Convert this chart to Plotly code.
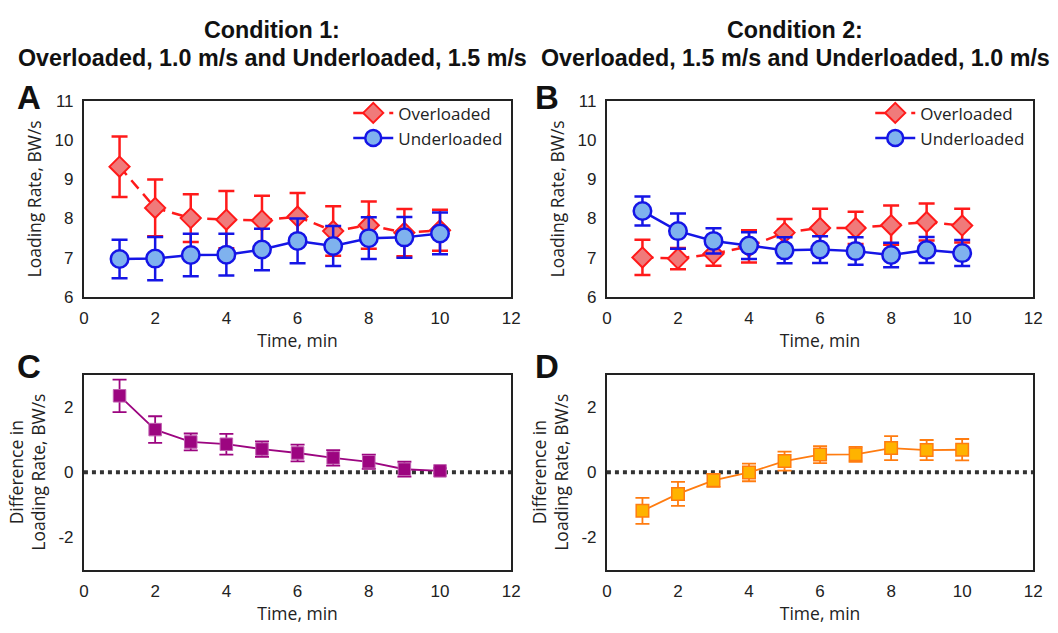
import plotly.graph_objects as go

time = [1, 2, 3, 4, 5, 6, 7, 8, 9, 10]

# Condition 1 (panel A)
a_over = [9.32, 8.27, 8.01, 7.97, 7.95, 8.05, 7.68, 7.83, 7.64, 7.70]
a_over_err = [0.77, 0.72, 0.61, 0.73, 0.63, 0.60, 0.63, 0.60, 0.60, 0.52]
a_under = [6.97, 6.98, 7.07, 7.08, 7.21, 7.43, 7.30, 7.50, 7.52, 7.62]
a_under_err = [0.49, 0.55, 0.54, 0.53, 0.53, 0.57, 0.51, 0.53, 0.52, 0.53]

# Condition 2 (panel B)
b_over = [7.01, 6.98, 7.10, 7.29, 7.64, 7.76, 7.76, 7.83, 7.91, 7.82]
b_over_err = [0.45, 0.27, 0.30, 0.41, 0.35, 0.49, 0.41, 0.50, 0.47, 0.43]
b_under = [8.19, 7.68, 7.43, 7.31, 7.19, 7.21, 7.17, 7.07, 7.20, 7.12]
b_under_err = [0.37, 0.45, 0.32, 0.34, 0.33, 0.34, 0.35, 0.31, 0.33, 0.33]

# Differences (panels C and D)
c_diff = [2.35, 1.31, 0.93, 0.86, 0.71, 0.59, 0.44, 0.32, 0.09, 0.04]
c_diff_err = [0.50, 0.41, 0.26, 0.32, 0.24, 0.26, 0.24, 0.22, 0.23, 0.08]
d_diff = [-1.19, -0.67, -0.25, -0.01, 0.34, 0.54, 0.55, 0.74, 0.68, 0.69]
d_diff_err = [0.40, 0.37, 0.20, 0.27, 0.29, 0.26, 0.23, 0.37, 0.31, 0.33]

RED = "#ff1a1a"
RED_FILL = "#f07a7a"
BLUE = "#1515e6"
BLUE_FILL = "#7fb2ee"
PURPLE = "#9c0580"
ORANGE = "#ff7c10"
ORANGE_FILL = "#ffb300"

FONT = "Liberation Sans, Arial, sans-serif"
TFONT = "Open Sans, sans-serif"

fig = go.Figure()


def over_trace(y, e, xa, ya, legend):
    return go.Scatter(
        x=time, y=y, xaxis=xa, yaxis=ya, name="Overloaded", legend=legend,
        mode="lines+markers",
        line=dict(color=RED, width=2.5, dash="11px,7px"),
        marker=dict(symbol="diamond", size=15.5, color=RED_FILL, line=dict(color=RED, width=2)),
        error_y=dict(type="data", array=e, visible=True, color=RED, thickness=2.5, width=8),
    )


def under_trace(y, e, xa, ya, legend):
    return go.Scatter(
        x=time, y=y, xaxis=xa, yaxis=ya, name="Underloaded", legend=legend,
        mode="lines+markers",
        line=dict(color=BLUE, width=2.5),
        marker=dict(symbol="circle", size=17.5, color=BLUE_FILL, line=dict(color=BLUE, width=2.5)),
        error_y=dict(type="data", array=e, visible=True, color=BLUE, thickness=2.5, width=8),
    )


fig.add_trace(over_trace(a_over, a_over_err, "x", "y", "legend"))
fig.add_trace(under_trace(a_under, a_under_err, "x", "y", "legend"))
fig.add_trace(over_trace(b_over, b_over_err, "x2", "y2", "legend2"))
fig.add_trace(under_trace(b_under, b_under_err, "x2", "y2", "legend2"))

fig.add_trace(go.Scatter(
    x=time, y=c_diff, xaxis="x3", yaxis="y3", showlegend=False, mode="lines+markers",
    line=dict(color=PURPLE, width=1.8),
    marker=dict(symbol="square", size=12.5, color=PURPLE, line=dict(color="#c060b0", width=1)),
    error_y=dict(type="data", array=c_diff_err, visible=True, color=PURPLE, thickness=1.8, width=7),
))
fig.add_trace(go.Scatter(
    x=time, y=d_diff, xaxis="x4", yaxis="y4", showlegend=False, mode="lines+markers",
    line=dict(color=ORANGE, width=1.8),
    marker=dict(symbol="square", size=12.5, color=ORANGE_FILL, line=dict(color=ORANGE, width=1.5)),
    error_y=dict(type="data", array=d_diff_err, visible=True, color=ORANGE, thickness=1.8, width=7),
))

W, H = 1058, 633
xl, xr = 80 / W, 513 / W
x2l, x2r = 610 / W, 1042 / W
ytop = [1 - 297 / H, 1 - 94.5 / H]
ybot = [1 - 578 / H, 1 - 377 / H]

axis_common = dict(
    showline=True, linecolor="#222222", linewidth=2, mirror=True,
    showgrid=False, zeroline=False, ticks="", ticklabelstandoff=5,
    tickfont=dict(family=FONT, size=17, color="#222222"),
)
title_font = dict(family=TFONT, size=17.5, color="#222222")

xcommon = dict(axis_common, range=[0, 12], tickvals=[0, 2, 4, 6, 8, 10, 12],
               title=dict(text="Time, min", font=title_font, standoff=6))

fig.update_layout(
    width=W, height=H, margin=dict(l=0, r=0, t=0, b=0),
    paper_bgcolor="white", plot_bgcolor="white",
    xaxis=dict(xcommon, domain=[xl, xr], anchor="y"),
    yaxis=dict(axis_common, domain=ytop, anchor="x", range=[6, 11], tickvals=[6, 7, 8, 9, 10, 11],
               title=dict(text="Loading Rate, BW/s", font=title_font, standoff=8)),
    xaxis2=dict(xcommon, domain=[x2l, x2r], anchor="y2"),
    yaxis2=dict(axis_common, domain=ytop, anchor="x2", range=[6, 11], tickvals=[6, 7, 8, 9, 10, 11],
                title=dict(text="Loading Rate, BW/s", font=title_font, standoff=8)),
    xaxis3=dict(xcommon, domain=[xl, xr], anchor="y3"),
    yaxis3=dict(axis_common, domain=ybot, anchor="x3", range=[-3, 3], tickvals=[-2, 0, 2],
                ticktext=["-2", "0", "2"],
                title=dict(text="Difference in<br>Loading Rate, BW/s", font=title_font, standoff=8)),
    xaxis4=dict(xcommon, domain=[x2l, x2r], anchor="y4"),
    yaxis4=dict(axis_common, domain=ybot, anchor="x4", range=[-3, 3], tickvals=[-2, 0, 2],
                ticktext=["-2", "0", "2"],
                title=dict(text="Difference in<br>Loading Rate, BW/s", font=title_font, standoff=8)),
    legend=dict(x=xr - 3 / W, y=1 - 89 / H, xanchor="right", yanchor="top",
                bgcolor="rgba(0,0,0,0)", font=dict(family=TFONT, size=17, color="#222222"),
                tracegroupgap=0, itemwidth=40),
    legend2=dict(x=x2r - 3 / W, y=1 - 89 / H, xanchor="right", yanchor="top",
                 bgcolor="rgba(0,0,0,0)", font=dict(family=TFONT, size=17, color="#222222"),
                 tracegroupgap=0, itemwidth=40),
)

# zero reference lines
for xa, ya in [("x3", "y3"), ("x4", "y4")]:
    fig.add_shape(type="line", xref=xa, yref=ya, x0=0, x1=12, y0=0, y1=0,
                  line=dict(color="#333333", width=4, dash="dot"), layer="below")

TITLE_FONT = dict(family="Liberation Sans, Arial, sans-serif", size=23.3, color="#111111")
titles = [
    (271, 22, "<b>Condition 1:</b>"),
    (271, 51, "<b>Overloaded, 1.0 m/s and Underloaded, 1.5 m/s</b>"),
    (801, 22, "<b>Condition 2:</b>"),
    (801, 51, "<b>Overloaded, 1.5 m/s and Underloaded, 1.0 m/s</b>"),
]
for x, y, t in titles:
    fig.add_annotation(x=x / W, y=1 - y / H, xref="paper", yref="paper", text=t,
                       showarrow=False, font=TITLE_FONT, xanchor="center", yanchor="middle")

letters = [(24, 91, "A"), (549, 91, "B"), (24, 369, "C"), (549, 369, "D")]
for x, y, t in letters:
    fig.add_annotation(x=x / W, y=1 - y / H, xref="paper", yref="paper", text="<b>" + t + "</b>",
                       showarrow=False, font=dict(family="Liberation Sans, Arial, sans-serif", size=33, color="#111111"),
                       xanchor="center", yanchor="middle")

fig.write_html("out.html",
               post_script="document.body.style.margin='0px';document.body.style.overflow='hidden';",
               config={"displayModeBar": False})
